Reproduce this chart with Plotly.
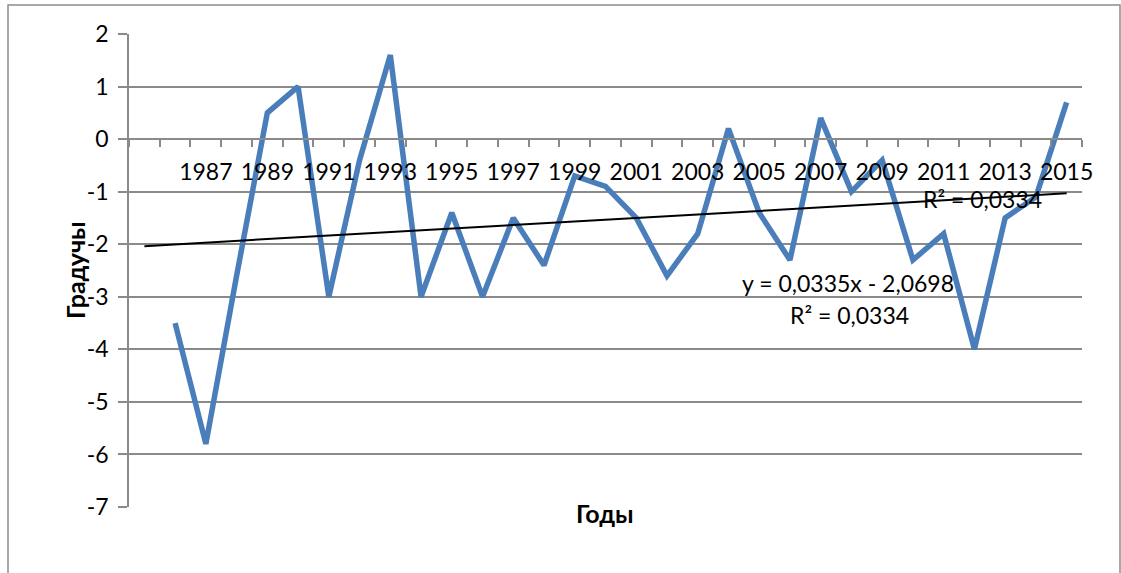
import plotly.graph_objects as go

# Categories (first category is blank, as in the source chart)
categories = ["", "1986", "1987", "1988", "1989", "1990", "1991", "1992", "1993", "1994",
              "1995", "1996", "1997", "1998", "1999", "2000", "2001", "2002", "2003", "2004",
              "2005", "2006", "2007", "2008", "2009", "2010", "2011", "2012", "2013", "2014", "2015"]
values = [None, -3.5, -5.8, -2.6, 0.5, 1.0, -3.0, -0.4, 1.6, -3.0,
          -1.4, -3.0, -1.5, -2.4, -0.7, -0.9, -1.5, -2.6, -1.8, 0.2,
          -1.4, -2.3, 0.4, -1.0, -0.4, -2.3, -1.8, -4.0, -1.5, -1.1, 0.7]
trend_slope = 0.0335
trend_intercept = -2.0698
trend_text = "y = 0,0335x - 2,0698"
r2_text = "R² = 0,0334"
y_ticks = [2, 1, 0, -1, -2, -3, -4, -5, -6, -7]
y_tick_labels = ["2", "1", "0", "-1", "-2", "-3", "-4", "-5", "-6", "-7"]

n = len(categories)
xs = list(range(1, n + 1))
trend_y = [trend_slope * x + trend_intercept for x in xs]

FONT = "Lato"
GRID = "#8a8a8a"

W, H = 1121, 573
ML, MR, MT, MB = 129, 39, 34, 66
PW, PH = W - ML - MR, H - MT - MB
YMIN, YMAX = -7, 2
XMIN, XMAX = 0.5, n + 0.5

def px_x(p):
    return (p - ML) / PW

def px_y(p):
    return (H - MB - p) / PH

def data_x(p):
    return XMIN + (p - ML) / PW * (XMAX - XMIN)

def data_y(p):
    return YMAX - (p - MT) / PH * (YMAX - YMIN)

fig = go.Figure()
fig.add_trace(go.Scatter(x=xs, y=values, mode="lines",
                         line=dict(color="#4A7EBB", width=5.5),
                         connectgaps=False, showlegend=False, hoverinfo="skip"))
fig.add_trace(go.Scatter(x=xs, y=trend_y, mode="lines",
                         line=dict(color="black", width=2),
                         showlegend=False, hoverinfo="skip"))
# dummy trace for secondary x axis (tick marks at category boundaries)
fig.add_trace(go.Scatter(x=[XMIN], y=[None], xaxis="x2", showlegend=False, hoverinfo="skip"))

zero_pos = (0 - YMIN) / (YMAX - YMIN)

label_idx = [i + 1 for i, c in enumerate(categories) if c and (int(c) % 2 == 1)]
label_txt = [categories[i - 1] for i in label_idx]

fig.update_layout(
    width=W, height=H,
    margin=dict(l=ML, r=MR, t=MT, b=MB, pad=0),
    paper_bgcolor="white", plot_bgcolor="white",
    font=dict(family=FONT, size=23, color="black"),
    xaxis=dict(range=[XMIN, XMAX], tickmode="array", tickvals=label_idx, ticktext=label_txt,
               ticks="outside", ticklen=12, tickcolor="rgba(0,0,0,0)",
               showgrid=False, zeroline=False, showline=False,
               anchor="free", position=zero_pos,
               tickfont=dict(family=FONT, size=23, color="black")),
    xaxis2=dict(range=[XMIN, XMAX], overlaying="x", tickmode="array",
                tickvals=[i + 0.5 for i in range(0, n + 1)],
                ticks="outside", ticklen=7, tickwidth=1.5, tickcolor=GRID,
                showticklabels=False, showgrid=False, zeroline=False,
                showline=True, linecolor=GRID, linewidth=1.5,
                anchor="free", position=zero_pos, side="bottom"),
    yaxis=dict(range=[YMIN, YMAX], tickmode="array", tickvals=y_ticks, ticktext=y_tick_labels,
               ticks="outside", ticklen=9, tickwidth=1.5, tickcolor=GRID,
               ticklabelstandoff=5,
               showgrid=True, gridcolor=GRID, gridwidth=1.5,
               showline=True, linecolor=GRID, linewidth=1.5, zeroline=False,
               tickfont=dict(family=FONT, size=23, color="black")),
)

fig.add_annotation(text="<b>Годы</b>", xref="paper", yref="paper",
                   x=px_x(605), y=px_y(530), showarrow=False,
                   font=dict(family=FONT, size=25, color="black"))
fig.add_annotation(text="<b>Градучы</b>", xref="paper", yref="paper",
                   x=px_x(58), y=px_y(270), showarrow=False, textangle=-90,
                   font=dict(family=FONT, size=25, color="black"))
fig.add_annotation(text=r2_text, x=data_x(982), y=data_y(199), showarrow=False,
                   font=dict(family=FONT, size=23, color="black"))
fig.add_annotation(text=trend_text, x=data_x(848), y=data_y(283), showarrow=False,
                   font=dict(family=FONT, size=23, color="black"))
fig.add_annotation(text=r2_text, x=data_x(849), y=data_y(315), showarrow=False,
                   font=dict(family=FONT, size=23, color="black"))

fig.add_shape(type="rect", xref="paper", yref="paper",
              x0=px_x(8), x1=px_x(1120), y0=px_y(590), y1=px_y(5),
              line=dict(color="#8c8c8c", width=1.5), fillcolor="rgba(0,0,0,0)", layer="below")

fig.write_html("out.html", config={"displayModeBar": False},
               post_script="document.body.style.margin='0';document.body.style.overflow='hidden';")
